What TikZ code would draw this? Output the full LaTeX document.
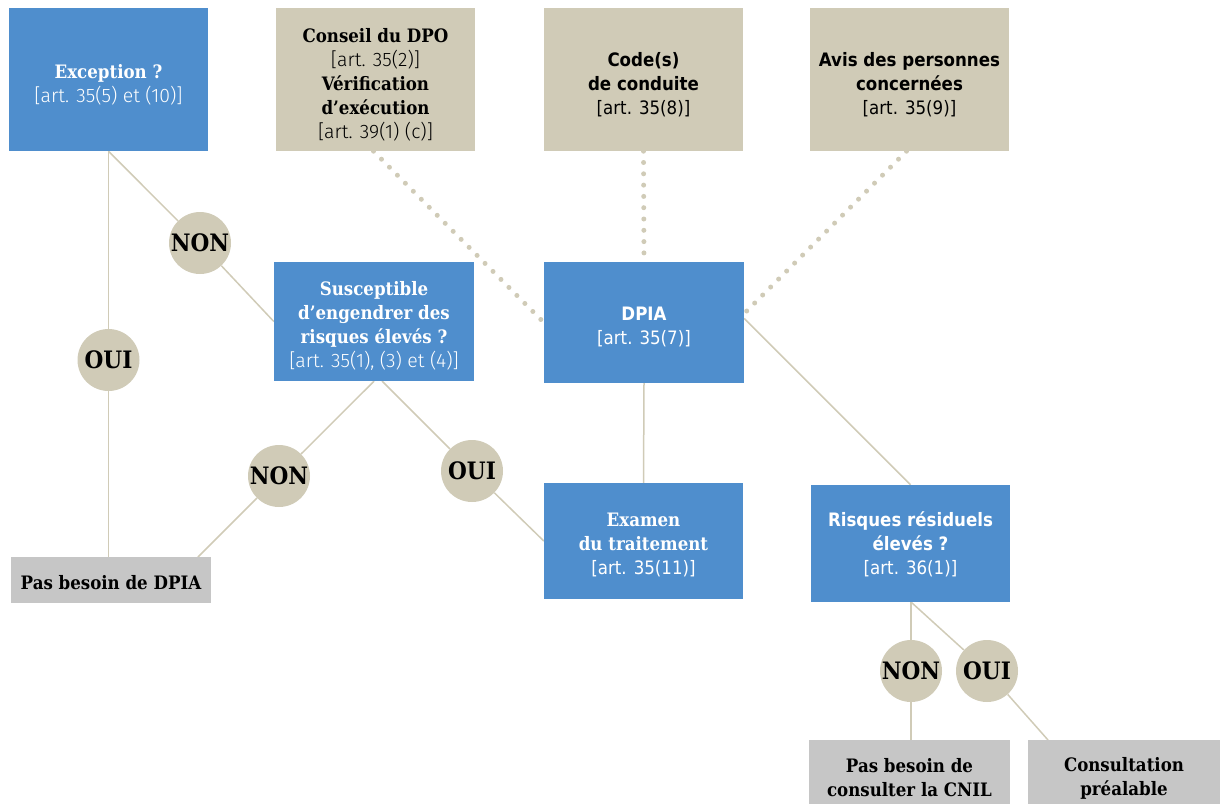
\documentclass[tikz,border=0pt]{standalone}
\usepackage{fontspec}
\usetikzlibrary{calc}
\newfontfamily\slabf{DejaVu Serif Condensed}
\newfontfamily\lightf{Fira Sans Light}
\newfontfamily\condf{DejaVu Sans Condensed}
\definecolor{cblue}{HTML}{4F8ECD}
\definecolor{ctan}{HTML}{D0CBB7}
\definecolor{cgray}{HTML}{C6C6C6}
\pgfdeclarelayer{bg}
\pgfsetlayers{bg,main}
\newcommand\bs[1]{{\slabf\bfseries #1}}
\newcommand\rl[1]{{\lightf\fontsize{19.5}{24}\selectfont #1}}
\newcommand\bc[1]{{\condf\bfseries #1}}
\newcommand\rc[1]{{\condf #1}}
\begin{document}
\begin{tikzpicture}[x=1pt,y=-1pt,
  box/.style={rectangle, inner sep=0pt, minimum width=199pt},
  bluebox/.style={box, fill=cblue},
  tanbox/.style={box, fill=ctan},
  graybox/.style={box, fill=cgray},
  lbl/.style={inner sep=0pt, align=center, font=\fontsize{18.5}{24}\selectfont},
  wlbl/.style={lbl, text=white},
  klbl/.style={lbl, text=black},
  answer/.style={circle, fill=ctan, minimum size=62pt, inner sep=0pt, text=black, font=\slabf\bfseries\fontsize{24}{24}\selectfont},
  conn/.style={draw=ctan, line width=1.5pt},
  dotlink/.style={draw=ctan, line width=5pt, line cap=round, dash pattern=on 0pt off 11.3pt}]
\useasboundingbox (0,0) rectangle (1220,803);

% boxes
\node[bluebox, minimum height=143pt] (exc) at (108.5,79.5) {};
\node[tanbox, minimum height=143pt] (cons) at (375.5,79.5) {};
\node[tanbox, minimum height=143pt] (code) at (643.5,79.5) {};
\node[tanbox, minimum height=143pt] (avis) at (909.5,79.5) {};
\node[bluebox, minimum width=200pt, minimum height=119pt] (susc) at (374,321.5) {};
\node[bluebox, minimum width=200pt, minimum height=121pt] (dpia) at (644,322.5) {};
\node[bluebox, minimum height=116pt] (exam) at (643.5,541) {};
\node[bluebox, minimum height=117pt] (risq) at (910.5,543.5) {};
\node[graybox, minimum width=200pt, minimum height=46pt] (pasdpia) at (111,580) {};
\node[graybox, minimum width=201pt, minimum height=76pt] (pascnil) at (909.5,778) {};
\node[graybox, minimum width=200pt, minimum height=76pt] (consult) at (1128,778) {};

% box texts
\node[wlbl] (exct) at ($(exc)+(0,5)$) {\bs{Exception ?}\\\rl{[art. 35(5) et (10)]}};
\node[klbl] (const) at ($(cons)+(0,5)$) {\bs{Conseil du DPO}\\\rl{[art. 35(2)]}\\\bs{Vérification}\\\bs{d’exécution}\\\rl{[art. 39(1) (c)]}};
\node[klbl] (codet) at ($(code)+(0,5)$) {\bc{Code(s)}\\\bc{de conduite}\\\rc{[art. 35(8)]}};
\node[klbl] (avist) at ($(avis)+(0,5)$) {\bc{Avis des personnes}\\\bc{concernées}\\\rc{[art. 35(9)]}};
\node[wlbl] (susct) at ($(susc)+(0,4)$) {\bs{Susceptible}\\\bs{d’engendrer des}\\\bs{risques élevés ?}\\\rl{[art. 35(1), (3) et (4)]}};
\node[wlbl] (dpiat) at ($(dpia)+(0,4)$) {\bc{DPIA}\\\rc{[art. 35(7)]}};
\node[wlbl] (examt) at ($(exam)+(0,4)$) {\bs{Examen}\\\bs{du traitement}\\\rc{[art. 35(11)]}};
\node[wlbl] (risqt) at ($(risq)+(0,1)$) {\bc{Risques résiduels}\\\bc{élevés ?}\\\rc{[art. 36(1)]}};
\node[klbl] (pasdpiat) at ($(pasdpia)+(0,3)$) {\bs{Pas besoin de DPIA}};
\node[klbl] (pascnilt) at (909.5,778) {\bs{Pas besoin de}\\\bs{consulter la CNIL}};
\node[klbl] (consultt) at (1124,778) {\bs{Consultation}\\\bs{préalable}};

% answers
\node[answer] (non1) at (200,243) {NON};
\node[answer] (oui1) at (108.5,360) {OUI};
\node[answer] (non2) at (279,476) {NON};
\node[answer] (oui2) at (472,471) {OUI};
\node[answer] (non3) at (911,671) {NON};
\node[answer] (oui3) at (987,671) {OUI};

% connector end points
\coordinate (pd1) at (198,557);
\coordinate (sb2) at (382,381);
\coordinate (cs1) at (1048,740);
\coordinate (rs) at (911,602);

\begin{pgfonlayer}{bg}
\draw[conn] (exc.south) -- (oui1) -- (exc.south |- pasdpia.north);
\draw[conn] (exc.south) -- (non1) -- (susc.west);
\draw[conn] (susc.south) -- (non2) -- (pd1);
\draw[conn] (sb2) -- (oui2) -- (exam.west);
\draw[conn] (dpia.south) -- (exam.north);
\draw[conn] ($(dpia.east)+(0,-4)$) -- (risq.north);
\draw[conn] (rs) -- (non3) -- (rs |- pascnil.north);
\draw[conn] (rs) -- (oui3) -- (cs1);
\draw[dotlink] ($(cons.south)+(-2,0)$) -- (dpia.west);
\draw[dotlink] (code.south) -- (dpia.north);
\draw[dotlink] ($(avis.south)+(-3,0)$) -- ($(dpia.east)+(0,-9)$);
\end{pgfonlayer}
\end{tikzpicture}
\end{document}
